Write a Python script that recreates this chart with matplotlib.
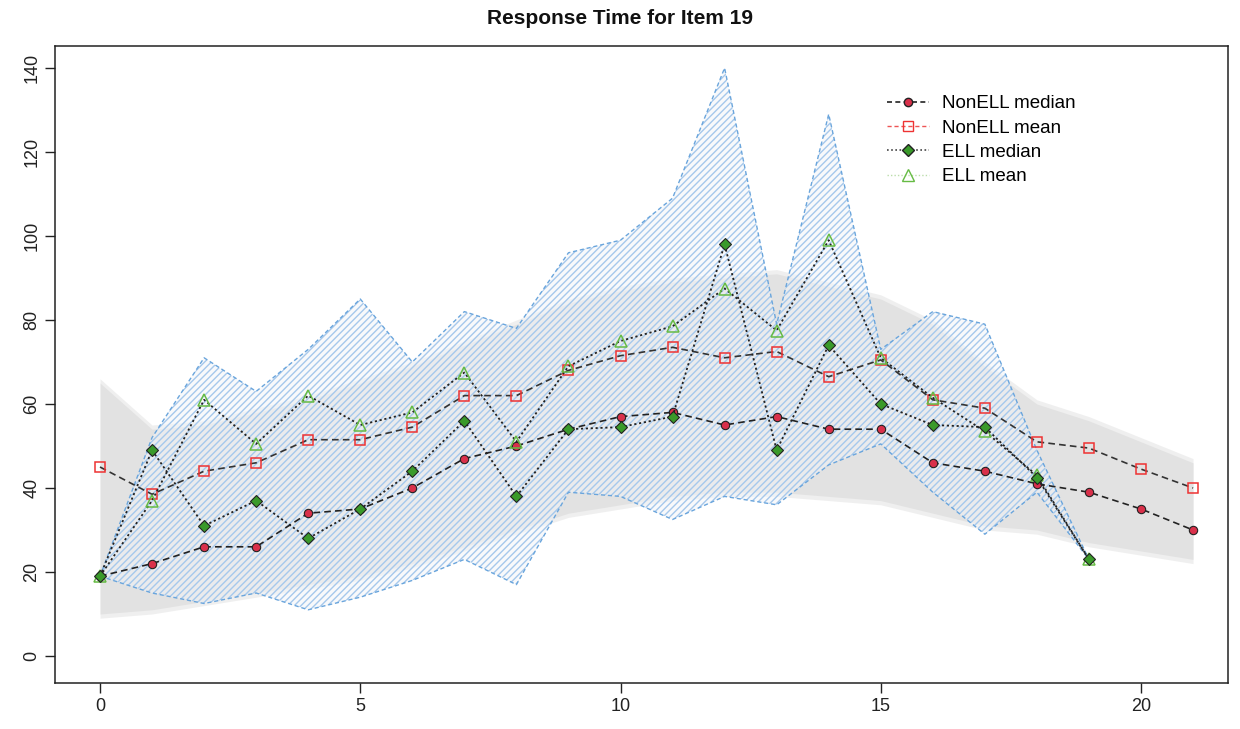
import matplotlib
matplotlib.use("Agg")
import matplotlib.pyplot as plt
from matplotlib.lines import Line2D
import numpy as np

plt.rcParams['font.family'] = ['Liberation Sans', 'DejaVu Sans']

# ---- data ----
x_non = list(range(0, 22))
x_ell = list(range(0, 20))

nonell_median = [19, 22, 26, 26, 34, 35, 40, 47, 50, 54, 57, 58, 55, 57, 54, 54, 46, 44, 41, 39, 35, 30]
nonell_mean = [45, 38.5, 44, 46, 51.5, 51.5, 54.5, 62, 62, 68, 71.5, 73.5, 71, 72.5, 66.5, 70.5, 61, 59, 51, 49.5, 44.5, 40]
ell_median = [19, 49, 31, 37, 28, 35, 44, 56, 38, 54, 54.5, 57, 98, 49, 74, 60, 55, 54.5, 42.5, 23]
ell_mean = [19, 37, 61, 50.5, 62, 55, 58, 67.5, 51, 69, 75, 78.5, 87.5, 77.5, 99, 71, 61.5, 53.5, 43, 23]

nonell_upper = [66, 55, 56, 59, 62, 66, 70, 75, 80, 85, 88, 90, 91, 92, 89, 86, 80, 70, 61, 57, 52, 47]
nonell_lower = [9, 10, 12, 14, 16, 18, 21, 25, 29, 33, 35, 37, 38, 38, 37, 36, 33, 30, 29, 26, 24, 22]

ell_upper = [19, 52, 71, 63, 73, 85, 70, 82, 78, 96, 99, 109, 140, 79, 129, 73, 82, 79, 49, 23]
ell_lower = [19, 15, 12.5, 15, 11, 14, 18, 23, 17, 39, 38, 32.5, 38, 36, 45.5, 50.5, 39, 29, 39, 23]

title = "Response Time for Item 19"
legend_labels = ["NonELL median", "NonELL mean", "ELL median", "ELL mean"]
xticks = [0, 5, 10, 15, 20]
yticks = [0, 20, 40, 60, 80, 100, 120, 140]

# ---- figure ----
fig = plt.figure(figsize=(12.4, 7.29), dpi=100)
W, H = 1240, 729
L, R, T, B = 55, 1228, 46, 683
ax = fig.add_axes([L / W, 1 - B / H, (R - L) / W, (B - T) / H])

# gray band (NonELL)
ax.fill_between(x_non, nonell_lower, nonell_upper, color="#e0e0e0", alpha=0.5, linewidth=0, zorder=1)
ax.fill_between(x_non, np.array(nonell_lower) + 1.0, np.array(nonell_upper) - 1.0,
                color="#d8d8d8", alpha=0.55, linewidth=0, zorder=1)

# blue hatched band (ELL)
plt.rcParams['hatch.linewidth'] = 1.0
ax.fill_between(x_ell, ell_lower, ell_upper, facecolor="#f2f5f9", alpha=0.5, linewidth=0, zorder=2)
ax.fill_between(x_ell, ell_lower, ell_upper, facecolor="none", edgecolor="#a6c8ec",
                hatch="/////", linewidth=0, zorder=2)
ax.plot(x_ell, ell_upper, color="#6aa5dc", linestyle=(0, (3, 2)), linewidth=1.0, zorder=3)
ax.plot(x_ell, ell_lower, color="#6aa5dc", linestyle=(0, (3, 2)), linewidth=1.0, zorder=3)

# lines
dash = (0, (4, 2.5))
dot = (0, (1.2, 1.5))
ax.plot(x_non, nonell_mean, color="#333333", linestyle=dash, linewidth=1.2, zorder=4,
        marker="s", markersize=7.5, markerfacecolor="none", markeredgecolor="#ee3333", markeredgewidth=1.1)
ax.plot(x_non, nonell_median, color="#222222", linestyle=dash, linewidth=1.2, zorder=5,
        marker="o", markersize=6, markerfacecolor="#d9304a", markeredgecolor="#222222", markeredgewidth=0.8)
ax.plot(x_ell, ell_mean, color="#222222", linestyle=dot, linewidth=1.3, zorder=5,
        marker="^", markersize=9, markerfacecolor="none", markeredgecolor="#66bb44", markeredgewidth=1.1)
ax.plot(x_ell, ell_median, color="#222222", linestyle=dot, linewidth=1.3, zorder=6,
        marker="D", markersize=6.5, markerfacecolor="#3a9a2a", markeredgecolor="#222222", markeredgewidth=0.8)

# axes styling
ax.set_xlim((L - 100) / 52.05, (R - 100) / 52.05)
ax.set_ylim((656 - B) / 4.2, (656 - T) / 4.2)
ax.set_xticks(xticks)
ax.set_yticks(yticks)
ax.tick_params(axis="both", direction="out", length=7, width=1, labelsize=13, colors="#222222")
ax.tick_params(axis="y", labelrotation=90)
for lbl in ax.get_yticklabels():
    lbl.set_verticalalignment("center")
for s in ax.spines.values():
    s.set_linewidth(1.1)
    s.set_color("#222222")

fig.text(0.5, 1 - 19 / H, title, ha="center", va="center", fontsize=15, fontweight="bold", color="#111111")

handles = [
    Line2D([], [], color="#222222", linestyle=(0, (3, 2)), linewidth=1.2, marker="o", markersize=6,
           markerfacecolor="#d9304a", markeredgecolor="#222222"),
    Line2D([], [], color="#ee5555", linestyle=(0, (3, 2)), linewidth=1.0, marker="s", markersize=7,
           markerfacecolor="none", markeredgecolor="#ee3333"),
    Line2D([], [], color="#444444", linestyle=(0, (1, 1.5)), linewidth=1.2, marker="D", markersize=6.5,
           markerfacecolor="#3a9a2a", markeredgecolor="#222222"),
    Line2D([], [], color="#bbddaa", linestyle=(0, (1, 1.5)), linewidth=1.0, marker="^", markersize=8,
           markerfacecolor="none", markeredgecolor="#66bb44"),
]
fig.legend(handles, legend_labels, loc="upper left", bbox_to_anchor=(878 / W, 1 - 86 / H),
           frameon=False, fontsize=13.5, handlelength=2.2, handletextpad=0.7, labelspacing=0.38,
           borderpad=0)

fig.savefig("out.png", dpi=100)
